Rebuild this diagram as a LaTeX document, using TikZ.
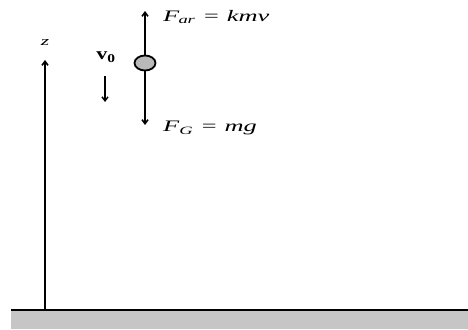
\documentclass[tikz,border=0pt]{standalone}
\usepackage{fontspec}
\setmainfont{Liberation Serif}
\usetikzlibrary{arrows.meta,shapes.geometric}
\newcommand{\wide}[1]{\scalebox{1.65}[1]{#1}}
\begin{document}
\begin{tikzpicture}[x=1pt,y=-1pt,
  force/.style={line width=1.6pt,-{Straight Barb[length=4pt,width=6pt]}},
  lbl/.style={font=\fontsize{16}{18}\selectfont\itshape,anchor=west,inner sep=0pt}]
\useasboundingbox (0,0) rectangle (468,329);
\fill[gray!45] (11,310) rectangle (468,329);
\draw[line width=1.6pt] (11,310) -- (468,310);
\coordinate (base) at (45,310);
\coordinate (ztop) at (45,60);
\draw[force] (base) -- (ztop);
\node[font=\fontsize{13}{15}\selectfont\itshape,inner sep=0pt] (z) at (45,43) {\wide{z}};
\node[ellipse,draw,line width=1.8pt,fill=gray!55,minimum width=21pt,minimum height=15pt,inner sep=0pt] (ball) at (145,63) {};
\coordinate (up) at (145,11);
\coordinate (dn) at (145,125);
\draw[force] (ball.north) -- (up);
\draw[force] (ball.south) -- (dn);
\node[lbl] (far) at (163,17) {\wide{F\textsubscript{\kern-0.5pt ar} = kmv}};
\node[lbl] (fg) at (163,128) {\wide{F\textsubscript{G} = mg}};
\node[font=\fontsize{17}{19}\selectfont\bfseries,inner sep=0pt] (v0) at (106,57) {\scalebox{1.3}[1]{v\textsubscript{0}}};
\coordinate (va) at (105,76);
\coordinate (vb) at (105,102);
\draw[force,line width=1.4pt] (va) -- (vb);
\end{tikzpicture}
\end{document}
